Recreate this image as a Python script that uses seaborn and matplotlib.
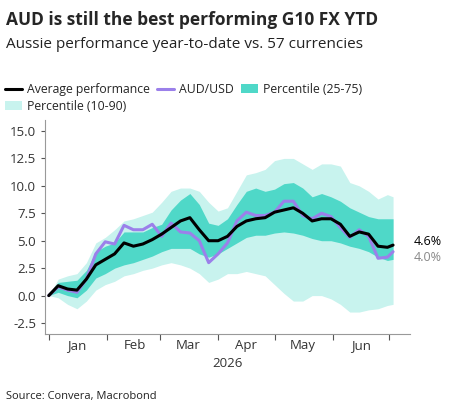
import numpy as np, pandas as pd
import matplotlib
matplotlib.use("Agg")
import matplotlib.pyplot as plt
import matplotlib.dates as mdates
import seaborn as sns

dates = pd.date_range("2026-01-01", periods=37, freq="5D").append(pd.DatetimeIndex(["2026-07-03"]))
avg = [0,0.9,0.6,0.5,1.5,2.8,3.3,3.8,4.8,4.5,4.7,5.1,5.6,6.2,6.8,7.1,6.0,5.0,5.0,5.4,6.3,6.8,7.0,7.1,7.6,7.8,8.0,7.5,6.8,7.0,7.0,6.5,5.4,5.8,5.6,4.5,4.4,4.6]
aud = [0,0.8,0.5,0.3,1.5,3.8,4.9,4.7,6.4,6.0,6.0,6.5,5.4,6.6,5.8,5.7,5.0,3.0,3.8,4.8,6.8,7.6,7.3,7.3,7.6,8.6,8.6,7.3,7.0,7.5,7.2,6.2,5.3,6.0,5.4,3.4,3.5,4.0]
p25 = [0,0.3,0,-0.2,0.5,1.6,2.0,2.5,2.8,3.0,3.3,3.6,4.0,4.3,4.3,4.3,3.8,3.5,3.8,4.3,4.8,5.3,5.5,5.5,5.7,5.8,5.7,5.5,5.2,5.0,5.0,4.8,4.5,4.3,4.0,3.5,3.2,3.3]
p75 = [0,1.2,1.3,1.4,2.3,4.0,4.5,4.8,5.8,5.8,5.8,6.2,6.5,7.8,8.7,9.3,8.3,6.6,6.4,7.0,8.3,9.5,9.8,9.5,9.7,10.2,10.3,9.8,9.0,9.3,9.0,8.6,8.0,7.6,7.2,7.0,7.0,7.0]
p10 = [0,-0.2,-0.8,-1.2,-0.5,0.5,1.0,1.3,1.8,2.0,2.3,2.5,2.8,3.0,2.8,2.5,2.0,1.2,1.5,2.0,2.0,2.2,2.0,1.8,1.0,0.2,-0.5,-0.5,0,0,-0.3,-0.8,-1.5,-1.5,-1.3,-1.2,-0.9,-0.8]
p90 = [0,1.5,1.8,2.0,3.0,4.8,5.3,6.0,6.8,7.0,7.3,7.6,8.5,9.5,9.8,9.8,9.5,8.5,7.7,8.0,9.5,11.0,11.2,11.5,12.3,12.5,12.5,12.0,11.5,12.0,12.0,11.8,10.3,10.0,9.5,8.8,9.2,9.0]

sns.set_style("white")
plt.rcParams['font.family'] = ['Open Sans', 'DejaVu Sans']
df = pd.DataFrame({"date": dates, "avg": avg, "aud": aud})

fig = plt.figure(figsize=(4.54, 4.16), dpi=100)
ax = fig.add_axes([45/454, 1-334/416, 365/454, 214/416])
ax.fill_between(dates, p10, p90, color="#c8f3ee", lw=0, label="Percentile (10-90)")
ax.fill_between(dates, p25, p75, color="#4fd8c8", lw=0, label="Percentile (25-75)")
sns.lineplot(data=df, x="date", y="aud", ax=ax, color="#9b80ea", lw=2.2, label="AUD/USD")
sns.lineplot(data=df, x="date", y="avg", ax=ax, color="black", lw=2.2, label="Average performance")
ax.set_ylim(-3.5, 16)
ax.set_xlim(pd.Timestamp("2025-12-30"), pd.Timestamp("2026-07-12"))
ax.set_yticks(np.arange(-2.5, 15.1, 2.5))
ax.set_yticklabels([f"{v:.1f}" for v in np.arange(-2.5, 15.1, 2.5)], fontsize=9.5, color="#333333")
ax.xaxis.set_major_locator(mdates.MonthLocator())
ax.xaxis.set_major_formatter(plt.NullFormatter())
ax.xaxis.set_minor_locator(mdates.MonthLocator(bymonthday=16))
ax.xaxis.set_minor_formatter(mdates.DateFormatter("%b"))
ax.tick_params(axis="x", which="major", length=4, direction="out", bottom=True, color="#555")
ax.tick_params(axis="x", which="minor", length=0, labelsize=9.5, labelcolor="#333333")
ax.tick_params(axis="y", length=3, left=True, color="#555")
ax.set_xlabel("2026", fontsize=9.5, color="#333333")
ax.set_ylabel("")
for s in ["top", "right"]:
    ax.spines[s].set_visible(False)
for s in ["left", "bottom"]:
    ax.spines[s].set_color("#999999")
ax.text(1.01, avg[-1]+0.3, f"{avg[-1]:.1f}%", transform=ax.get_yaxis_transform(), fontsize=9, color="black", va="center")
ax.text(1.01, aud[-1]-0.5, f"{aud[-1]:.1f}%", transform=ax.get_yaxis_transform(), fontsize=9, color="#888888", va="center")

h, l = ax.get_legend_handles_labels()
order = [3, 0, 2, 1]
ax.legend([h[i] for i in order], [l[i] for i in order], loc="lower left", bbox_to_anchor=(-0.13, 1.0),
          ncol=3, frameon=False, fontsize=8.8, handlelength=1.4, handletextpad=0.4, columnspacing=0.6,
          borderaxespad=0.2, labelspacing=0.3)
fig.text(6/454, 1-20/416, "AUD is still the best performing G10 FX YTD", fontsize=12.5, fontweight="bold", va="center")
fig.text(6/454, 1-44/416, "Aussie performance year-to-date vs. 57 currencies", fontsize=11, va="center", color="#222")
fig.text(6/454, 1-397/416, "Source: Convera, Macrobond", fontsize=8, va="center", color="#222")
fig.savefig("out.png", dpi=100)
